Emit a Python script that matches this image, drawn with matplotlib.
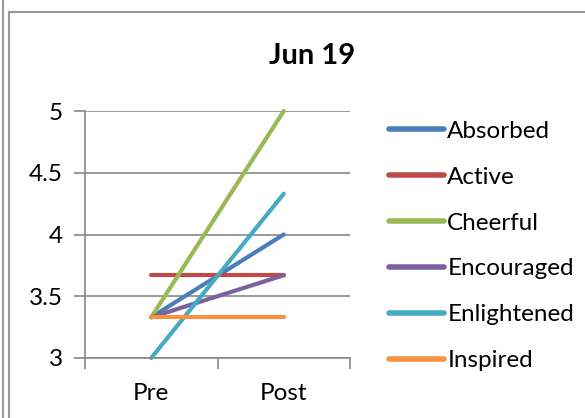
import matplotlib
matplotlib.use("Agg")
import matplotlib.pyplot as plt
from matplotlib.lines import Line2D

categories = ["Pre", "Post"]
series_names = ["Absorbed", "Active", "Cheerful", "Encouraged", "Enlightened", "Inspired"]
absorbed = [3.33, 4.0]
active = [3.67, 3.67]
cheerful = [3.33, 5.0]
encouraged = [3.33, 3.67]
enlightened = [3.0, 4.33]
inspired = [3.33, 3.33]
series_values = [absorbed, active, cheerful, encouraged, enlightened, inspired]
colors = ["#4A7EBB", "#BE4B48", "#98B954", "#7D60A0", "#46AAC5", "#F69240"]
yticks = [3, 3.5, 4, 4.5, 5]
ytick_labels = ["3", "3.5", "4", "4.5", "5"]
title = "Jun 19"

plt.rcParams['font.family'] = ['Lato', 'DejaVu Sans']

fig = plt.figure(figsize=(5.85, 4.18), dpi=100)
W, H = 585, 418
ax = fig.add_axes([85 / W, 1 - 358 / H, (350 - 85) / W, (358 - 111) / H])

x = list(range(len(categories)))
for name, vals, c in zip(series_names, series_values, colors):
    ax.plot(x, vals, color=c, lw=3.0, solid_capstyle='round', label=name, clip_on=False)

ax.set_xlim(-0.5, len(categories) - 0.5)
ax.set_ylim(3, 5)
ax.set_yticks(yticks)
ax.set_yticklabels(ytick_labels)
ax.set_xticks(x)
ax.set_xticklabels(categories)
ax.set_xticks([-0.5, 0.5, 1.5], minor=True)
ax.tick_params(axis='x', which='major', length=0, pad=18, labelsize=17.5)
ax.tick_params(axis='x', which='minor', length=8, width=1.2, color='#888888', direction='out')
ax.tick_params(axis='y', length=8, width=1.2, color='#888888', direction='out', labelsize=17.5, pad=8)
ax.grid(axis='y', color='#888888', lw=1.2)
ax.set_axisbelow(True)
for s in ['top', 'right']:
    ax.spines[s].set_visible(False)
for s in ['left', 'bottom']:
    ax.spines[s].set_color('#888888')
    ax.spines[s].set_linewidth(1.2)

fig.text(312 / W, 1 - 56 / H, title, ha='center', va='center', fontsize=21, fontweight='bold')

leg = ax.legend(loc='center left', bbox_to_anchor=(389 / W, 1 - 246 / H), bbox_transform=fig.transFigure,
                frameon=False, fontsize=17.5, handlelength=2.25, handletextpad=0.15, labelspacing=1.02,
                borderaxespad=0, borderpad=0)
for h in leg.get_lines():
    h.set_linewidth(4)

# frame lines
fig.add_artist(Line2D([3 / W, 3 / W], [0, 1], color='#999999', lw=1.5, transform=fig.transFigure))
fig.add_artist(Line2D([9 / W, 9 / W], [0, 1 - 12 / H], color='#999999', lw=1.5, transform=fig.transFigure))
fig.add_artist(Line2D([9 / W, 1], [1 - 12 / H, 1 - 12 / H], color='#999999', lw=1.5, transform=fig.transFigure))

fig.savefig("out.png", dpi=100)
